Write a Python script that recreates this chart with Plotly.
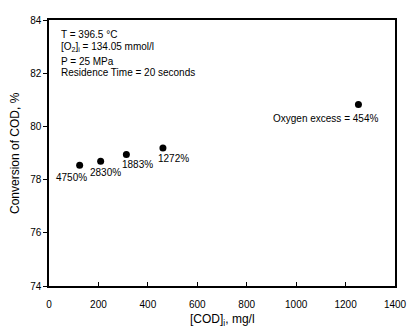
import plotly.graph_objects as go

cod = [124, 209, 313, 461, 1252]
conversion = [78.54, 78.69, 78.94, 79.19, 80.82]
point_labels = ["4750%", "2830%", "1883%", "1272%", "Oxygen excess = 454%"]
x_ticks = [0, 200, 400, 600, 800, 1000, 1200, 1400]
y_ticks = [74, 76, 78, 80, 82, 84]
info_lines = ["T = 396.5 °C", "[O<sub>2</sub>]<sub>i</sub> = 134.05 mmol/l", "P = 25 MPa",
              "Residence Time = 20 seconds"]
x_title = "[COD]<sub>i</sub>, mg/l"
y_title = "Conversion of COD, %"

FONT = "Liberation Sans, Arial, sans-serif"
L, R, T, B = 49, 12, 20, 46
W, H = 407, 332
PW, PH = W - L - R, H - T - B

fig = go.Figure()
fig.add_trace(go.Scatter(x=cod, y=conversion, mode="markers",
                         marker=dict(color="black", size=7), showlegend=False,
                         hoverinfo="skip"))

# point labels (offsets in pixels)
offsets = [(-8, -12), (5, -11), (11, -10), (11, -11), (-33, -14)]
for x, y, t, (dx, dy) in zip(cod, conversion, point_labels, offsets):
    fig.add_annotation(x=x, y=y, text=t, showarrow=False, xshift=dx, yshift=dy,
                       font=dict(size=10, color="black", family=FONT))

# info text block
info_y = [35, 47, 61, 72]
for t, py in zip(info_lines, info_y):
    fig.add_annotation(xref="paper", yref="paper", x=(58.5 - L) / PW,
                       y=1 - (py - T) / PH, text=t, showarrow=False,
                       xanchor="left", yanchor="middle",
                       font=dict(size=10, color="black", family=FONT))

# axis titles
fig.add_annotation(xref="paper", yref="paper", x=0.5, y=1 - (320 - T) / PH,
                   text=x_title, showarrow=False, xanchor="center", yanchor="middle",
                   font=dict(size=12, color="black", family=FONT))
fig.add_annotation(xref="paper", yref="paper", x=(15 - L) / PW, y=0.5,
                   text=y_title, showarrow=False, textangle=-90,
                   xanchor="center", yanchor="middle",
                   font=dict(size=12, color="black", family=FONT))

axis_common = dict(showline=True, linecolor="black", linewidth=1.5, mirror=True,
                   ticklen=4, tickwidth=1, tickcolor="black",
                   showgrid=False, zeroline=False, automargin=False,
                   tickfont=dict(size=10, color="black", family=FONT))

fig.update_xaxes(range=[0, 1400], tickvals=x_ticks, ticks="inside",
                 ticklabelstandoff=8, **axis_common)
fig.update_yaxes(range=[74, 84], tickvals=y_ticks, ticks="outside", **axis_common)

fig.update_layout(width=W, height=H, margin=dict(l=L, r=R, t=T, b=B),
                  plot_bgcolor="white", paper_bgcolor="white",
                  font=dict(family=FONT, color="black"))

fig.write_html("out.html", config={"displayModeBar": False},
               post_script="document.body.style.margin='0';document.body.style.overflow='hidden';")
